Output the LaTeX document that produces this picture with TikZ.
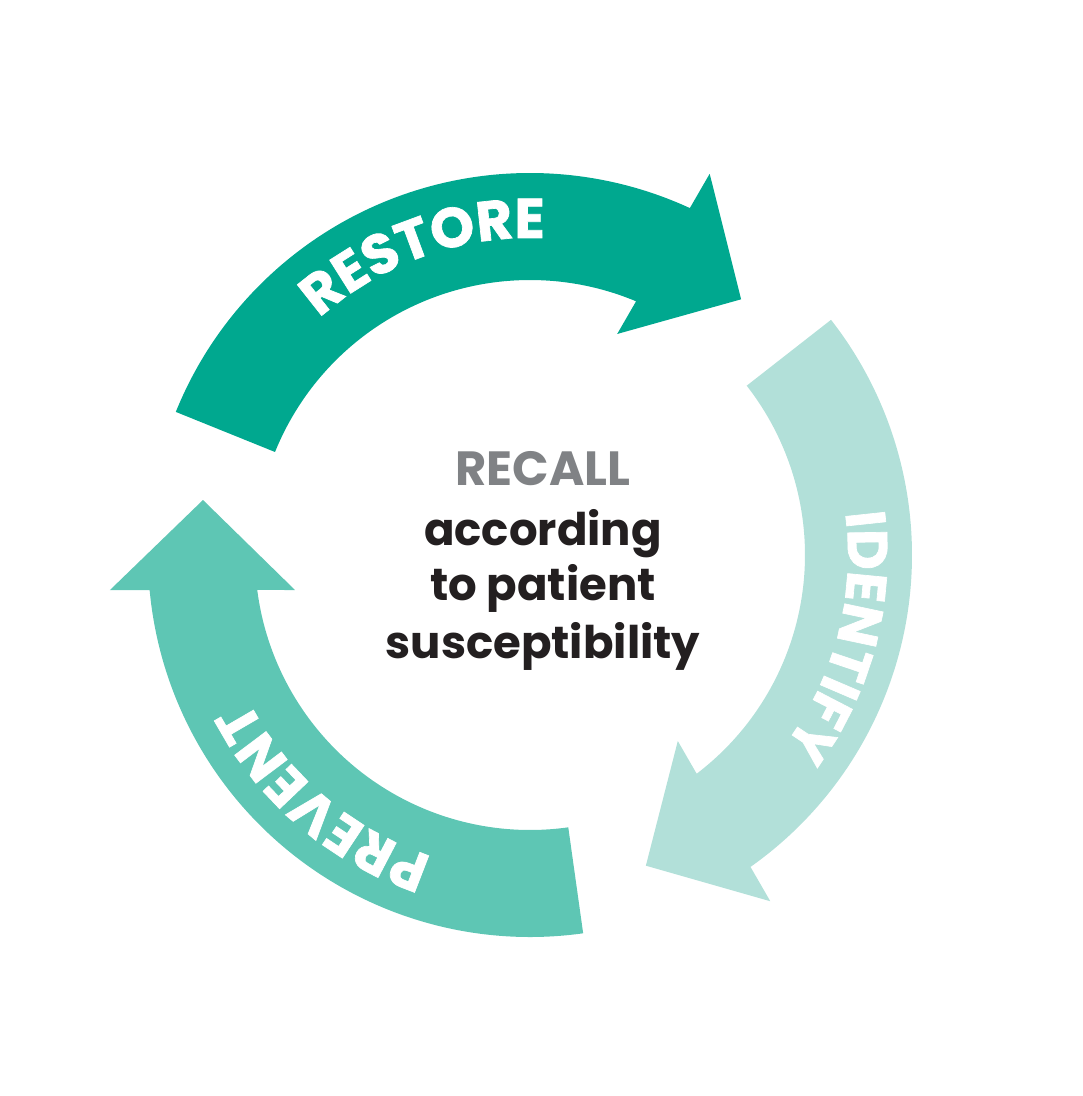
\documentclass[tikz,border=0pt]{standalone}
\usepackage{fontspec}
\setmainfont{Poppins}
\newfontfamily\arcfamily{Poppins}[LetterSpace=-3,BoldFeatures={FakeBold=1.2}]
\usepackage{xcolor}
\definecolor{restoregreen}{HTML}{00A88F}
\definecolor{identifygreen}{HTML}{B2E0D9}
\definecolor{preventgreen}{HTML}{5EC6B4}
\definecolor{recallgray}{HTML}{808285}
\definecolor{ink}{HTML}{231F20}
\usetikzlibrary{positioning,decorations.text}
\newcommand{\arcfont}{\arcfamily\bfseries\fontsize{56}{60}\selectfont\color{white}}
\tikzset{
  band/.style={fill=#1},
  arclabel/.style={decorate,decoration={text along path,text align=center,text={|\arcfont|#1}}},
  line/.style={font=\fontsize{45}{56}\selectfont\bfseries,text=ink,inner sep=0pt,text height=36pt,text depth=12pt},
  head/.style={line,font=\fontsize{48}{56}\selectfont\bfseries,text=recallgray},
}

\begin{document}
\begin{tikzpicture}[x=1pt,y=1pt]
\useasboundingbox (-530,-541) rectangle (553,555);
% one arrow shape, turned by 120 degrees for the other two
\foreach \rot/\col in {0/preventgreen,-120/restoregreen,120/identifygreen}
  \fill[band=\col,rotate=\rot] (278:382) arc[start angle=278,end angle=185.26,radius=382]
    -- (-420,-35) -- (-327,55) -- (-235,-35)
    -- (187.31:275) arc[start angle=187.31,end angle=278,radius=275] -- cycle;
% labels along the arrows
\path[arclabel=RESTORE] (149.5:317) arc[start angle=149.5,end angle=69.5,radius=317];
\path[arclabel=IDENTIFY] (25.3:318) arc[start angle=25.3,end angle=-54.7,radius=318];
\path[arclabel=PREVENT] (-90.4:317) arc[start angle=-90.4,end angle=-170.4,radius=317];
% centre text
\node[head,anchor=base] (recall) at (13,70) {RECALL};
\node[line,below=12pt of recall] (according) {according};
\node[line,below=7pt of according] (patient) {to patient};
\node[line,below=9pt of patient] (suscept) {susceptibility};
\end{tikzpicture}
\end{document}
